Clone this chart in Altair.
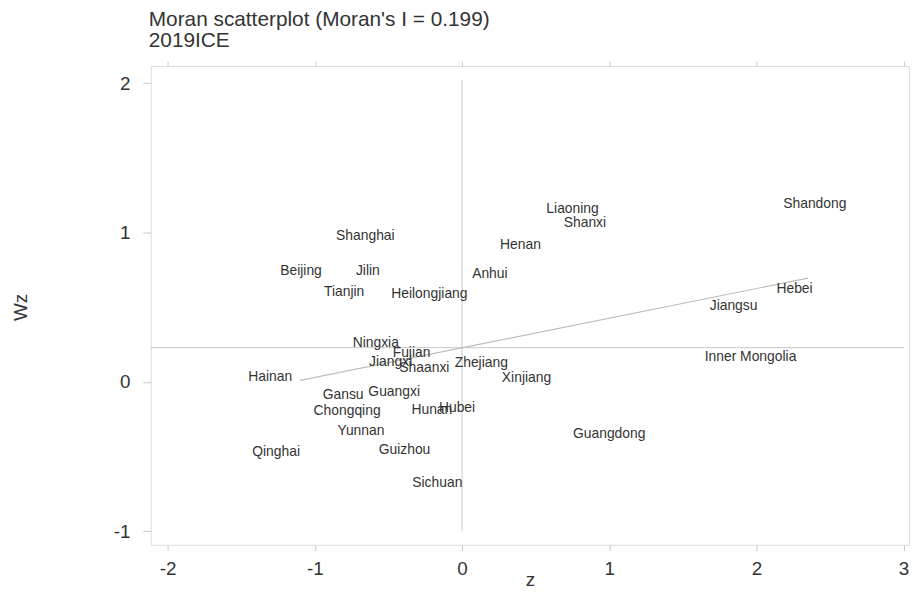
import altair as alt
import pandas as pd

# ---- data ----
provinces = ["Shanghai", "Beijing", "Jilin", "Tianjin", "Heilongjiang", "Anhui", "Henan",
             "Liaoning", "Shanxi", "Shandong", "Hebei", "Jiangsu", "Inner Mongolia",
             "Ningxia", "Fujian", "Jiangxi", "Shaanxi", "Zhejiang", "Xinjiang", "Hainan",
             "Gansu", "Guangxi", "Chongqing", "Hunan", "Hubei", "Yunnan", "Qinghai",
             "Guizhou", "Sichuan", "Guangdong"]
z_vals = [-0.657, -1.094, -0.640, -0.801, -0.222, 0.189, 0.397,
          0.751, 0.835, 2.397, 2.259, 1.845, 1.960,
          -0.586, -0.343, -0.485, -0.256, 0.131, 0.438, -1.303,
          -0.808, -0.461, -0.781, -0.205, -0.034, -0.687, -1.263,
          -0.391, -0.168, 1.000]
wz_vals = [0.980, 0.743, 0.741, 0.602, 0.589, 0.721, 0.920,
           1.159, 1.066, 1.193, 0.622, 0.509, 0.170,
           0.263, 0.197, 0.131, 0.091, 0.124, 0.025, 0.031,
           -0.088, -0.068, -0.194, -0.188, -0.174, -0.327, -0.466,
           -0.453, -0.679, -0.347]

fit_z = [-1.10, 2.35]
fit_wz = [0.011, 0.695]
mean_wz = 0.230
mean_z = 0.0
hline_z = [-2.115, 3.003]
vline_wz = [-1.0, 2.02]

x_ticks = [-2, -1, 0, 1, 2, 3]
y_ticks = [-1, 0, 1, 2]
x_domain = [-2.115, 3.037]
y_domain = [-1.09, 2.115]

FONT = "Liberation Sans"
TXT = "#333333"
GRID = "#c8c8c8"

pts = pd.DataFrame({"name": provinces, "z": z_vals, "wz": wz_vals})
fit = pd.DataFrame({"z": fit_z, "wz": fit_wz})
hl = pd.DataFrame({"z": [hline_z[0]], "z2": [hline_z[1]], "wz": [mean_wz]})
vl = pd.DataFrame({"z": [mean_z], "wz": [vline_wz[0]], "wz2": [vline_wz[1]]})

xscale = alt.Scale(domain=x_domain, nice=False, zero=False)
yscale = alt.Scale(domain=y_domain, nice=False, zero=False)

yaxis = alt.Axis(values=y_ticks, grid=False, domain=False, tickColor=GRID, tickSize=8,
                 labelPadding=13, labelFontSize=19, labelFont=FONT, labelColor=TXT,
                 labelExpr="datum.value + ''",
                 title="Wz", titleFontSize=19, titleFont=FONT, titleColor=TXT,
                 titleFontWeight="normal", titleX=-121, titleY=243)

xaxis_bottom = alt.Axis(values=x_ticks, grid=False, domain=False, tickColor=GRID, tickSize=6,
                        labelPadding=9, labelFontSize=19, labelFont=FONT, labelColor=TXT,
                        labelExpr="datum.value + ''",
                        title="z", titleFontSize=19, titleFont=FONT, titleColor=TXT,
                        titleFontWeight="normal", titleBaseline="alphabetic", titleY=41)
xaxis_top = alt.Axis(values=x_ticks, orient="top", grid=False, domain=False, labels=False,
                     tickColor=GRID, tickSize=5, title=None)

hline = alt.Chart(hl).mark_rule(color=GRID, strokeWidth=1).encode(
    x=alt.X("z:Q", scale=xscale, axis=xaxis_top),
    x2="z2:Q",
    y=alt.Y("wz:Q", scale=yscale, axis=yaxis),
)
vline = alt.Chart(vl).mark_rule(color=GRID, strokeWidth=1).encode(
    x=alt.X("z:Q", scale=xscale, axis=None),
    y=alt.Y("wz:Q", scale=yscale, axis=yaxis),
    y2="wz2:Q",
)
fitline = alt.Chart(fit).mark_line(color="#bdbdbd", strokeWidth=1.2).encode(
    x=alt.X("z:Q", scale=xscale, axis=None),
    y=alt.Y("wz:Q", scale=yscale, axis=yaxis),
)
labels = alt.Chart(pts).mark_text(font=FONT, fontSize=14, color=TXT,
                                  align="center", baseline="middle").encode(
    x=alt.X("z:Q", scale=xscale, axis=xaxis_bottom),
    y=alt.Y("wz:Q", scale=yscale, axis=yaxis),
    text="name:N",
)

chart = alt.layer(hline, vline, fitline, labels).resolve_axis(x="independent").properties(
    width=765,
    height=483,
    autosize=alt.AutoSizeParams(type="none"),
    padding={"left": 144, "top": 56, "right": 4, "bottom": 42},
    title=alt.TitleParams(
        text="Moran scatterplot (Moran's I = 0.199)",
        subtitle="2019ICE",
        anchor="start", frame="group",
        font=FONT, fontSize=21, fontWeight="normal", color=TXT,
        subtitleFont=FONT, subtitleFontSize=21, subtitleColor=TXT,
        subtitlePadding=0, offset=10, dx=-2,
    ),
).configure_view(stroke="#d0d0d0", strokeWidth=1).configure(background="white")

chart.save("out.html", embed_options={"renderer": "svg", "actions": False})
